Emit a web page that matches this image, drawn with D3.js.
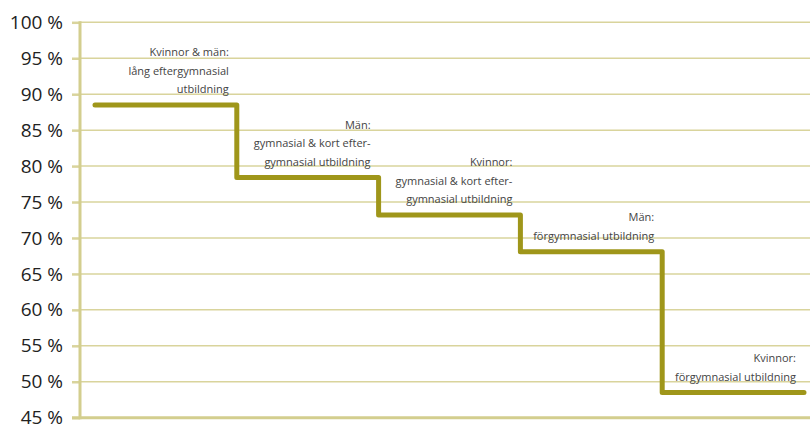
<!DOCTYPE html>
<html>
<head>
<meta charset="utf-8">
<script src="https://d3js.org/d3.v7.min.js"></script>
<style>
  body { margin: 0; background: #fff; }
  svg { display: block; }
  .tick text { font-family: 'Open Sans', sans-serif; font-size: 19px; fill: #222; }
  .lbl { font-family: 'Open Sans', sans-serif; font-size: 11px; fill: #444; }
</style>
</head>
<body>
<svg id="chart" width="810" height="427"></svg>
<script>
// groups, left to right
var groups = ["kvm_lang", "man_gymn", "kv_gymn", "man_forg", "kv_forg"];
var shares = [88.5, 78.4, 73.2, 68.1, 48.5];
var labels = [
  ["Kvinnor & män:", "lång eftergymnasial", "utbildning"],
  ["Män:", "gymnasial & kort efter-", "gymnasial utbildning"],
  ["Kvinnor:", "gymnasial & kort efter-", "gymnasial utbildning"],
  ["Män:", "förgymnasial utbildning"],
  ["Kvinnor:", "förgymnasial utbildning"]
];
var yTicks = [45, 50, 55, 60, 65, 70, 75, 80, 85, 90, 95, 100];

var svg = d3.select("#chart");
var padL = 80, padR = 810, padT = 22.3, padB = 417.7;

var y = d3.scaleLinear().domain([45, 100]).range([padB, padT]);
var x = d3.scaleBand().domain(groups).range([95, 804]).paddingInner(0);

var gridColor = "#d9d49c";

// gridlines
svg.append("g")
  .selectAll("line")
  .data(yTicks.filter(function(d) { return d > 45; }))
  .enter().append("line")
  .attr("x1", padL).attr("x2", padR)
  .attr("y1", function(d) { return y(d); })
  .attr("y2", function(d) { return y(d); })
  .attr("stroke", gridColor)
  .attr("stroke-width", 1.5);

// y axis
var yAxis = d3.axisLeft(y).tickValues(yTicks).tickSize(8).tickPadding(9)
  .tickFormat(function(d) { return d + " %"; });
var gy = svg.append("g").attr("transform", "translate(" + padL + ",0)").call(yAxis);
gy.select(".domain").remove();
gy.selectAll(".tick line").attr("stroke", gridColor).attr("stroke-width", 2.5);

svg.append("line")
  .attr("x1", padL).attr("x2", padL)
  .attr("y1", padT - 1).attr("y2", padB + 1.5)
  .attr("stroke", "#d3ce8e").attr("stroke-width", 3);
svg.append("line")
  .attr("x1", padL - 8).attr("x2", padR)
  .attr("y1", padB).attr("y2", padB)
  .attr("stroke", "#d3ce8e").attr("stroke-width", 3);

// step line
var pts = [];
groups.forEach(function(g, i) {
  pts.push([x(g), y(shares[i])]);
  pts.push([x(g) + x.bandwidth(), y(shares[i])]);
});
svg.append("path")
  .attr("d", d3.line()(pts))
  .attr("fill", "none")
  .attr("stroke", "#9f961a")
  .attr("stroke-width", 5)
  .attr("stroke-linejoin", "round")
  .attr("stroke-linecap", "round");

// labels
groups.forEach(function(g, i) {
  var xr = x(g) + x.bandwidth() - 8;
  var base = y(shares[i]) - 12;
  var lines = labels[i];
  var t = svg.append("text").attr("class", "lbl").attr("text-anchor", "end");
  lines.forEach(function(s, j) {
    t.append("tspan")
      .attr("x", xr)
      .attr("y", base - (lines.length - 1 - j) * 18.4)
      .text(s);
  });
});
</script>
</body>
</html>
